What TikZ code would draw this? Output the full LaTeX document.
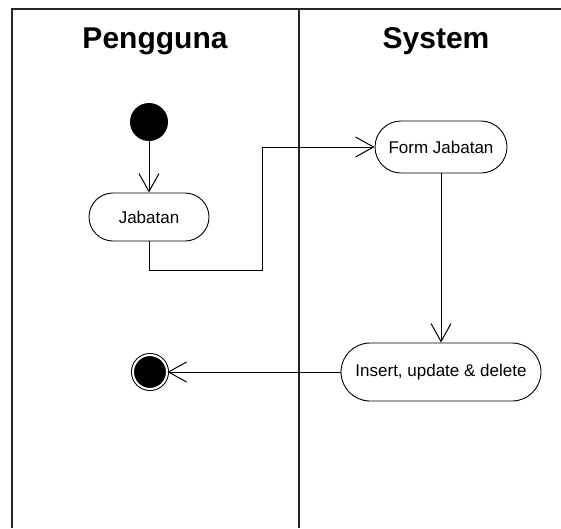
\documentclass[tikz,border=0pt]{standalone}
\usepackage{fontspec}
\setmainfont{Liberation Sans}
\usetikzlibrary{arrows.meta}

\tikzstyle{aS}=[draw, line width=0.9pt, rounded corners=24pt, minimum width=120pt, minimum height=48pt, inner sep=0pt, font=\fontsize{17}{20}\selectfont, align=center]
\tikzstyle{sS}=[circle, fill=black, minimum size=38pt, inner sep=0pt]
\tikzstyle{fS}=[circle, draw=black, double=white, double distance=2pt, line width=1pt, fill=black, minimum size=34pt, inner sep=0pt]
\tikzstyle{eS}=[draw, line width=1pt, -{Straight Barb[length=18pt,width=20pt]}]
\tikzstyle{lS}=[line width=2pt, black!85]
\tikzstyle{tS}=[font=\fontsize{30}{34}\selectfont\bfseries, anchor=base]

\begin{document}
\begin{tikzpicture}[x=1pt,y=-1pt]%[x=1 px]
                \useasboundingbox (0,0) rectangle (561,528);
                % lanes
                \draw[lS] (12,528) -- (12,9) -- (561,9);
                \draw[lS] (299,9) -- (299,528);
                \draw (155,48) node[tS] (tP) {Pengguna};
                \draw (436,48) node[tS] (tY) {System};
                % activities
                \draw (149,122) node[sS] (start) {};
                \draw (149,217) node[aS] (jab) {Jabatan};
                \draw (441,147) node[aS,minimum width=132pt,minimum height=52pt,rounded corners=26pt] (form) {Form Jabatan};
                \draw (441,372) node[aS,minimum width=200pt,minimum height=58pt,rounded corners=29pt] (ins) {Insert, update \& delete};
                \draw (150,372) node[fS] (end) {};
                \coordinate (c1) at (262,270);
                \path
                    (start) edge[eS] (jab)
                    (form) edge[eS] (ins)
                    (ins) edge[eS] (end)
                ;
                \draw[eS] (jab) |- (c1) |- (form);
        \end{tikzpicture}
\end{document}
